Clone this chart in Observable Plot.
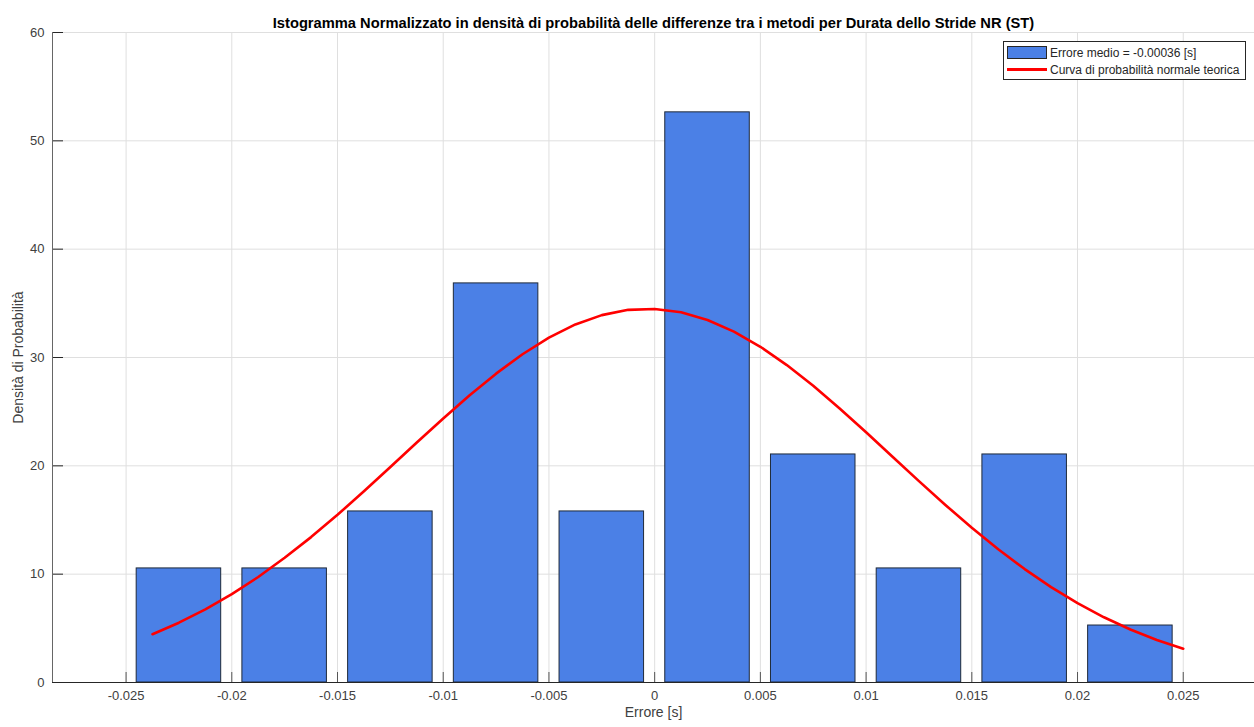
<!DOCTYPE html>
<html>
<head>
<meta charset="utf-8">
<script src="https://cdn.jsdelivr.net/npm/d3@7"></script>
<script src="https://cdn.jsdelivr.net/npm/@observablehq/plot@0.6"></script>
<style>
  html, body { margin: 0; padding: 0; background: #fff; }
  #wrap { position: relative; width: 1254px; height: 727px; font-family: "Liberation Sans", Arial, sans-serif; color: #262626; }
  #legend { position: absolute; left: 1003px; top: 41px; width: 243px; height: 39px; border: 1px solid #262626; background: #fff; box-sizing: border-box; font-size: 12px; }
  .row { position: absolute; left: 3px; height: 17px; display: flex; align-items: center; white-space: nowrap; }
  .sw { width: 40px; height: 13px; box-sizing: border-box; border: 1px solid #262626; margin-right: 3px; }
  .ln { width: 40px; height: 2.5px; margin-right: 3px; }
</style>
</head>
<body>
<div id="wrap"></div>
<script>
// Histogram bin edges (left, right) and normalized density of each bin
const binLeft  = [-0.025, -0.02, -0.015, -0.01, -0.005, 0, 0.005, 0.01, 0.015, 0.02];
const binRight = [-0.02, -0.015, -0.01, -0.005, 0, 0.005, 0.01, 0.015, 0.02, 0.025];
const density  = [10.53, 10.53, 15.79, 36.84, 15.79, 52.63, 21.05, 10.53, 21.05, 5.26];

// Theoretical normal probability curve (x, density)
const curveX = [-0.02375, -0.0225, -0.02125, -0.02, -0.01875, -0.0175, -0.01625, -0.015, -0.01375, -0.0125,
                -0.01125, -0.01, -0.00875, -0.0075, -0.00625, -0.005, -0.00375, -0.0025, -0.00125, 0,
                0.00125, 0.0025, 0.00375, 0.005, 0.00625, 0.0075, 0.00875, 0.01, 0.01125, 0.0125,
                0.01375, 0.015, 0.01625, 0.0175, 0.01875, 0.02, 0.02125, 0.0225, 0.02375, 0.025];
const curveY = [4.46, 5.52, 6.75, 8.16, 9.74, 11.51, 13.42, 15.48, 17.65, 19.89,
                22.15, 24.37, 26.52, 28.51, 30.30, 31.83, 33.05, 33.91, 34.40, 34.48,
                34.17, 33.46, 32.39, 30.99, 29.30, 27.39, 25.30, 23.10, 20.84, 18.59,
                16.39, 14.28, 12.30, 10.47, 8.81, 7.32, 6.02, 4.89, 3.93, 3.12];

// Axis ticks and texts
const xTicks = [-0.025, -0.02, -0.015, -0.01, -0.005, 0, 0.005, 0.01, 0.015, 0.02, 0.025];
const yTicks = [0, 10, 20, 30, 40, 50, 60];
const titleText = "Istogramma Normalizzato in densità di probabilità delle differenze tra i metodi per Durata dello Stride NR (ST)";
const xLabel = "Errore [s]";
const yLabel = "Densità di Probabilità";
const legendLabels = ["Errore medio = -0.00036 [s]", "Curva di probabilità normale teorica"];

const bins = binLeft.map((l, i) => ({x1: l, x2: binRight[i], y: density[i]}));
const curve = curveX.map((x, i) => ({x, y: curveY[i]}));

const W = 1254, H = 727;
const mT = 32, mB = 45, mL = 52, mR = 0;
const xDomain = [-0.02848, 0.02837];
const ink = "#262626";
const labelInk = "#404040";

const chart = Plot.plot({
  width: W, height: H,
  marginTop: mT, marginBottom: mB, marginLeft: mL, marginRight: mR,
  style: {fontFamily: "'Liberation Sans', Arial, sans-serif", fontSize: "13px", color: ink, background: "transparent", overflow: "visible"},
  x: {domain: xDomain, label: null},
  y: {domain: [0, 60], label: null},
  marks: [
    Plot.ruleX(xTicks, {stroke: "#dfdfdf", strokeWidth: 1}),
    Plot.ruleY(yTicks, {stroke: "#dfdfdf", strokeWidth: 1}),
    Plot.rectY(bins, {x1: "x1", x2: "x2", y: "y", insetLeft: 10.6, insetRight: 10.6,
      fill: "#4b80e6", stroke: "#1f2a3a", strokeWidth: 1}),
    Plot.line(curve, {x: "x", y: "y", stroke: "#ff0000", strokeWidth: 2.6, curve: "linear"}),
    // inward tick marks
    Plot.ruleX(xTicks, {stroke: "#555", strokeWidth: 1, insetTop: H - mT - mB - 10}),
    Plot.ruleY(yTicks, {stroke: ink, strokeWidth: 1, insetRight: W - mL - mR - 11}),
    // axis lines
    Plot.ruleY([0], {stroke: ink, strokeWidth: 1}),
    Plot.ruleX([xDomain[0]], {stroke: "#666", strokeWidth: 1}),
    Plot.axisX({ticks: xTicks, tickSize: 0, tickPadding: 8, tickFormat: d => String(+d.toFixed(3)), fill: labelInk, fontSize: 13}),
    Plot.axisY({ticks: yTicks, tickSize: 0, tickPadding: 8, tickFormat: d => String(d), fill: labelInk, fontSize: 13}),
    Plot.text([xLabel], {frameAnchor: "bottom", dy: 34, fill: labelInk, fontSize: 14}),
    Plot.text([yLabel], {frameAnchor: "left", textAnchor: "middle", dx: -34, rotate: -90, fill: labelInk, fontSize: 14}),
    Plot.text([titleText], {frameAnchor: "top", dy: -15, fill: "#000", fontSize: 14.7, fontWeight: "bold"})
  ]
});

const wrap = document.getElementById("wrap");
wrap.appendChild(chart);

// Legend box
const legend = document.createElement("div");
legend.id = "legend";
legend.innerHTML =
  `<div class="row" style="top:2px"><div class="sw" style="background:#4b80e6"></div><span>${legendLabels[0]}</span></div>` +
  `<div class="row" style="top:19px"><div class="ln" style="background:#ff0000"></div><span>${legendLabels[1]}</span></div>`;
wrap.appendChild(legend);
</script>
</body>
</html>
